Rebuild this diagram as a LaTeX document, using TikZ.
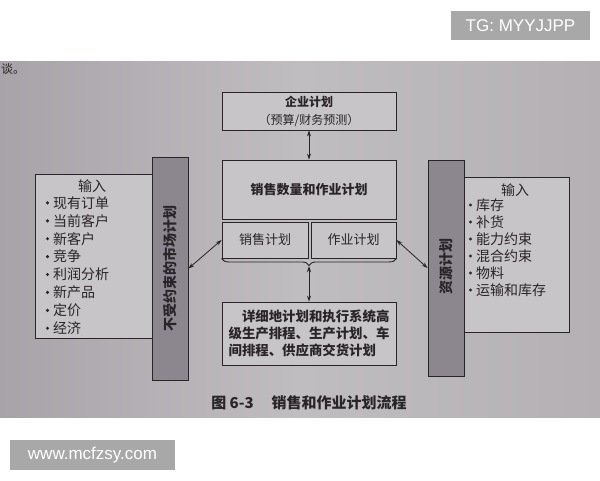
\documentclass[tikz,border=0pt]{standalone}
\usepackage{fontspec}
\setmainfont{Noto Sans CJK SC}
\newfontfamily\latinsans{Liberation Sans}
\usetikzlibrary{arrows.meta,decorations.pathreplacing}
\definecolor{photoL}{RGB}{168,163,168}
\definecolor{photoM}{RGB}{192,189,193}
\definecolor{photoR}{RGB}{180,176,180}
\definecolor{boxfill}{RGB}{200,197,201}
\definecolor{barfill}{RGB}{140,135,143}
\definecolor{ink}{RGB}{40,36,40}
\definecolor{badge}{RGB}{168,168,168}
\tikzset{
  box/.style={draw=ink, line width=0.9pt, fill=boxfill, text=ink, inner sep=0pt},
  bar/.style={draw=ink, line width=0.9pt, fill=barfill, text=ink, inner sep=0pt},
  link/.style={draw=ink, line width=0.8pt, {Stealth[length=6pt,width=4pt]}-{Stealth[length=6pt,width=4pt]}},
  item/.style={anchor=west, text=ink, inner sep=0pt, font=\fontsize{14}{16}\selectfont},
  bulletdot/.style={fill=ink},
  badgebox/.style={fill=badge, text=white, inner sep=0pt, font=\latinsans\fontsize{17}{19}\selectfont}
}
\begin{document}
\begin{tikzpicture}[x=1pt,y=-1pt]
\useasboundingbox (0,0) rectangle (600,480);
\fill[white] (0,0) rectangle (600,480);
% photo background
\shade[left color=photoL, right color=photoR, middle color=photoM] (0,61) rectangle (600,417);
\node[text=ink, font=\fontsize{12}{14}\selectfont, anchor=west, inner sep=0pt] (prev) at (1,69) {谈。};

% badges
\node[badgebox, minimum width=139, minimum height=29] (tg) at (520.5,25.5) {TG: MYYJJPP};
\node[badgebox, minimum width=165, minimum height=30] (www) at (92.5,455) {www.mcfzsy.com};

% central column
\node[box, minimum width=174, minimum height=38, align=center, font=\fontsize{12}{18}\selectfont] (corp) at (309,111) {\textbf{企业计划}\\（预算/财务预测）};
\node[box, minimum width=174, minimum height=59, font=\bfseries\fontsize{13}{15}\selectfont] (main) at (309,189.5) {销售数量和作业计划};
\node[box, minimum width=86, minimum height=36, font=\fontsize{13}{15}\selectfont] (sales) at (265,240) {销售计划};
\node[box, minimum width=85, minimum height=36, font=\fontsize{13}{15}\selectfont] (ops) at (353.5,240) {作业计划};
\draw[ink, line width=0.9pt, decorate, decoration={brace, mirror, amplitude=7pt}] (sales.south west) -- (ops.south east);
\coordinate (tip) at (309,266);
\node[box, minimum width=174, minimum height=63, align=left, font=\bfseries\fontsize{13.4}{17}\selectfont] (detail) at (309,333.5)
  {\hspace*{13.4pt}详细地计划和执行系统高\\级生产排程、生产计划、车\\间排程、供应商交货计划};

% left side
\node[box, minimum width=117, minimum height=164] (inL) at (93.5,256) {};
\node[bar, minimum width=36, minimum height=223] (barL) at (170,268.5) {};
\node[rotate=90, text=ink, font=\bfseries\fontsize{14}{16}\selectfont] (barLtext) at (170,268) {不受约束的市场计划};
\node[text=ink, font=\fontsize{14}{16}\selectfont] (inLtitle) at (92,186) {输入};
\foreach \t [count=\i] in {现有订单,当前客户,新客户,竞争,利润分析,新产品,定价,经济}{
  \fill[bulletdot] (47.5,185+17.9*\i) circle (1.7);
  \node[item] (L\i) at (53,185+17.9*\i) {\t};
}

% right side
\node[box, minimum width=105, minimum height=155] (inR) at (516.5,254.5) {};
\node[bar, minimum width=36, minimum height=216] (barR) at (446,268) {};
\node[rotate=90, text=ink, font=\bfseries\fontsize{14}{16}\selectfont] (barRtext) at (446,266) {资源计划};
\node[text=ink, font=\fontsize{14}{16}\selectfont] (inRtitle) at (515,190) {输入};
\foreach \t [count=\i] in {库存,补货,能力约束,混合约束,物料,运输和库存}{
  \fill[bulletdot] (470.5,188+17*\i) circle (1.6);
  \node[item] (R\i) at (476,188+17*\i) {\t};
}

% connectors
\draw[link] (corp.south) -- (main.north);
\draw[link] (tip) -- (detail.north);
\draw[link] (barL.east) -- (sales.west);
\draw[link] (ops.east) -- (barR.west);

% caption
\node[text=ink, font=\bfseries\fontsize{15}{17}\selectfont] (cap) at (309,403) {图 6-3\hspace{1.2em}销售和作业计划流程};
\end{tikzpicture}
\end{document}
